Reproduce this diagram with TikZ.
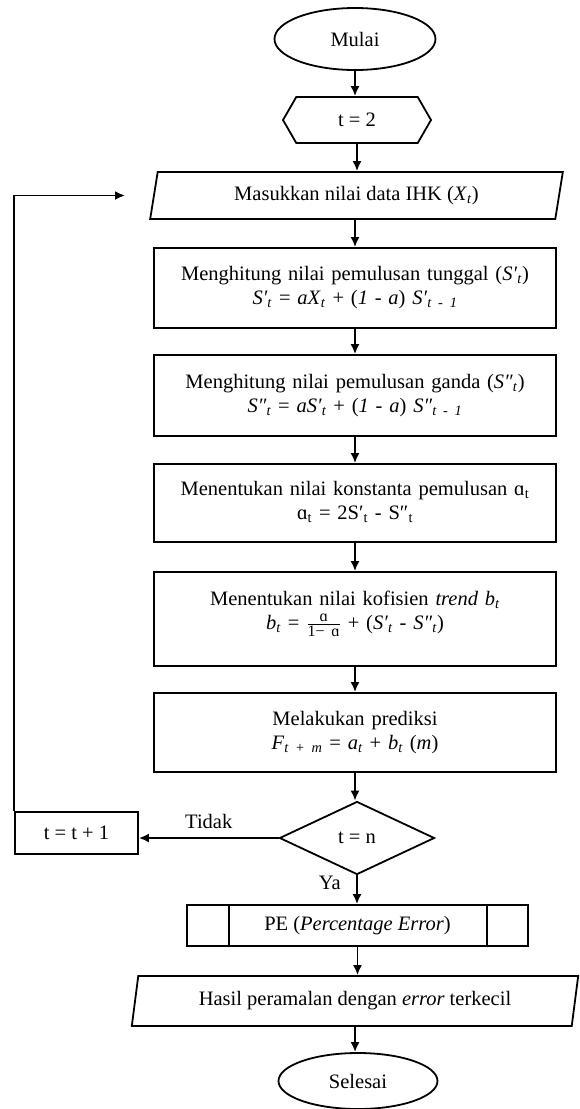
\documentclass[tikz,border=0pt]{standalone}
\usepackage{fontspec}
\setmainfont{Liberation Serif}
\usepackage{tikz}
\usetikzlibrary{arrows.meta,shapes.geometric,shapes.symbols}

\newcommand{\ts}[1]{\textsubscript{\textit{#1}}}

\begin{document}
\begin{tikzpicture}[x=1pt, y=-1pt, >={Latex[length=10pt,width=9pt]}, line width=1.8pt,
    every node/.style={font=\fontsize{20.5}{24}\selectfont},
    terminal/.style={ellipse, draw, inner sep=0pt},
    iobox/.style={trapezium, draw, trapezium stretches=true, trapezium left angle=76, trapezium right angle=104, inner sep=0pt},
    procbox/.style={rectangle, draw, minimum width=402pt, text width=390pt, align=center, text depth=29pt, inner sep=0pt}]
    \useasboundingbox (0,0) rectangle (579,1109);

    % start and counter
    \node (start) at (355,39) [terminal, minimum width=161pt, minimum height=62pt] {Mulai};
    \node (init) at (357,120) [signal, draw, signal to=west and east, signal pointer angle=120, minimum width=148pt, minimum height=46pt, inner sep=0pt] {t = 2};

    % input data
    \node (input) at (356.5,195.5) [iobox, minimum width=413pt, minimum height=47pt] {Masukkan nilai data IHK (\textit{X}\ts{t})};

    % smoothing steps
    \node (single) at (355,288) [procbox, minimum height=80pt] {Menghitung nilai pemulusan tunggal (\textit{S′}\ts{t})\\
        \textit{S′}\ts{t} = \textit{aX}\ts{t} + (\textit{1} - \textit{a}) \textit{S′}\ts{t - 1}};
    \node (double) at (355,395.5) [procbox, minimum height=81pt] {Menghitung nilai pemulusan ganda (\textit{S″}\ts{t})\\
        \textit{S″}\ts{t} = \textit{aS′}\ts{t} + (\textit{1} - \textit{a}) \textit{S″}\ts{t - 1}};
    \node (konst) at (355,503) [procbox, minimum height=78pt] {Menentukan nilai konstanta pemulusan ɑ\textsubscript{t}\\
        ɑ\textsubscript{t} = 2S′\textsubscript{t} - S″\textsubscript{t}};
    \node (trend) at (355,619) [procbox, minimum height=94pt, text depth=42pt] {Menentukan nilai kofisien \textit{trend b}\ts{t}\\
        \textit{b}\ts{t} = $\frac{\mbox{\fontsize{16}{16}\selectfont ɑ}}{\mbox{\fontsize{16}{16}\selectfont 1− ɑ}}$ + (\textit{S′}\ts{t} - \textit{S″}\ts{t})};
    \node (pred) at (355,732.5) [procbox, minimum height=79pt] {Melakukan prediksi\\
        \textit{F}\ts{t + m} = \textit{a}\ts{t} + \textit{b}\ts{t} (\textit{m})};

    % decision and loop
    \node (check) at (357,838) [diamond, draw, aspect=2.1, minimum width=155pt, minimum height=73pt, inner sep=0pt] {t = n};
    \node (tinc) at (76.5,833) [rectangle, draw, minimum width=123pt, minimum height=42pt, inner sep=0pt] {t = t + 1};
    \coordinate (back) at (125,195.5);

    % error and result
    \node (pe) at (357.5,925.5) [rectangle, draw, minimum width=341pt, minimum height=41pt, inner sep=0pt] {PE (\textit{Percentage Error})};
    \draw ([xshift=43pt]pe.north west) -- ([xshift=43pt]pe.south west);
    \draw ([xshift=-42pt]pe.north east) -- ([xshift=-42pt]pe.south east);
    \node (result) at (355,1001) [iobox, minimum width=448pt, minimum height=50pt] {Hasil peramalan dengan \textit{error} terkecil};
    \node (stop) at (358,1081) [terminal, minimum width=159pt, minimum height=56pt] {Selesai};

    % connectors
    \draw[->] (start.south) -- (start.south |- init.north);
    \draw[->] (init.south) -- (init.south |- input.north);
    \draw[->] (single.north |- input.south) -- (single.north);
    \draw[->] (single.south) -- (double.north);
    \draw[->] (double.south) -- (konst.north);
    \draw[->] (konst.south) -- (trend.north);
    \draw[->] (trend.south) -- (pred.north);
    \draw[->] (pred.south) -- (pred.south |- check.north);
    \draw[->] (check.west) -- node[midway, above=5pt] {Tidak} (check.west -| tinc.east);
    \draw[->] (tinc.north west) |- (back);
    \draw[->] (check.south) -- node[pos=0.25, left=12pt] {Ya} (check.south |- pe.north);
    \draw[->] (pe.south) -- (pe.south |- result.north);
    \draw[->] (result.south) -- (result.south |- stop.north);
\end{tikzpicture}
\end{document}
